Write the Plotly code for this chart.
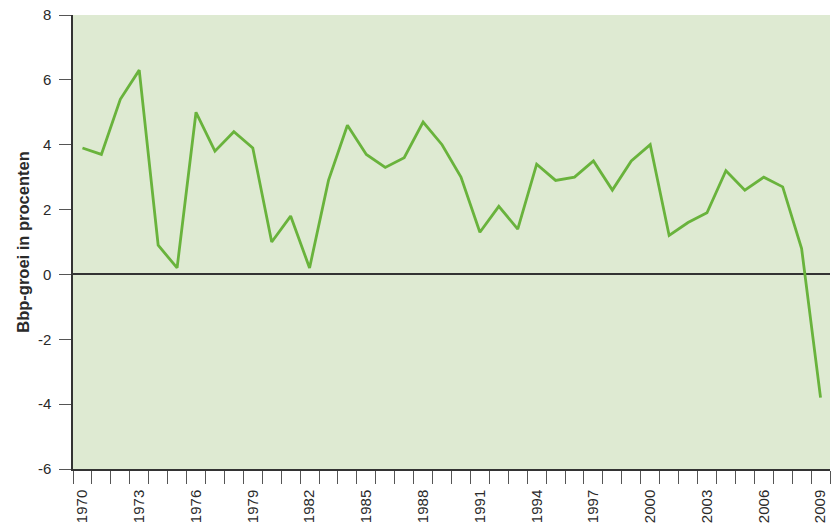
import plotly.graph_objects as go

years = list(range(1970, 2010))
growth = [3.9, 3.7, 5.4, 6.3, 0.9, 0.2, 5.0, 3.8, 4.4, 3.9,
          1.0, 1.8, 0.2, 2.9, 4.6, 3.7, 3.3, 3.6, 4.7, 4.0,
          3.0, 1.3, 2.1, 1.4, 3.4, 2.9, 3.0, 3.5, 2.6, 3.5,
          4.0, 1.2, 1.6, 1.9, 3.2, 2.6, 3.0, 2.7, 0.8, -3.8]
label_years = list(range(1970, 2010, 3))
y_ticks = [-6, -4, -2, 0, 2, 4, 6, 8]
y_labels = ["-6", "-4", "-2", "0", "2", "4", "6", "8"]

fig = go.Figure()
fig.add_trace(go.Scatter(
    x=years, y=growth, mode="lines",
    line=dict(color="#69b33c", width=2.8),
    showlegend=False,
))

fig.update_layout(
    width=832, height=525,
    margin=dict(l=73, r=2, t=15, b=56, autoexpand=False),
    paper_bgcolor="white",
    plot_bgcolor="#deead2",
    font=dict(family="Liberation Sans, Arial, sans-serif", size=15, color="#2a2a2a"),
    xaxis=dict(
        range=[1969.5, 2009.5],
        tickvals=label_years,
        ticktext=[str(y) for y in label_years],
        tickangle=-90,
        ticks="outside", ticklen=13, tickcolor="rgba(0,0,0,0)",
        showgrid=False, zeroline=False,
        showline=True, linecolor="#333", linewidth=1.5,
        minor=dict(ticks="outside", ticklen=13, tick0=1969.5, dtick=1,
                   tickcolor="#555", tickwidth=1, showgrid=False),
        automargin=False,
    ),
    yaxis=dict(
        range=[-6, 8],
        tickvals=y_ticks,
        ticktext=y_labels,
        ticks="outside", ticklen=12, tickcolor="#555", tickwidth=1,
        ticklabelstandoff=5,
        showgrid=False,
        zeroline=True, zerolinecolor="#333", zerolinewidth=1.5,
        showline=True, linecolor="#333", linewidth=1.5,
        title=dict(text="<b>Bbp-groei in procenten</b>", font=dict(size=16.5), standoff=4),
        automargin=False,
    ),
)

fig.write_html("out.html", config={"displayModeBar": False},
               post_script="document.body.style.margin='0';")
